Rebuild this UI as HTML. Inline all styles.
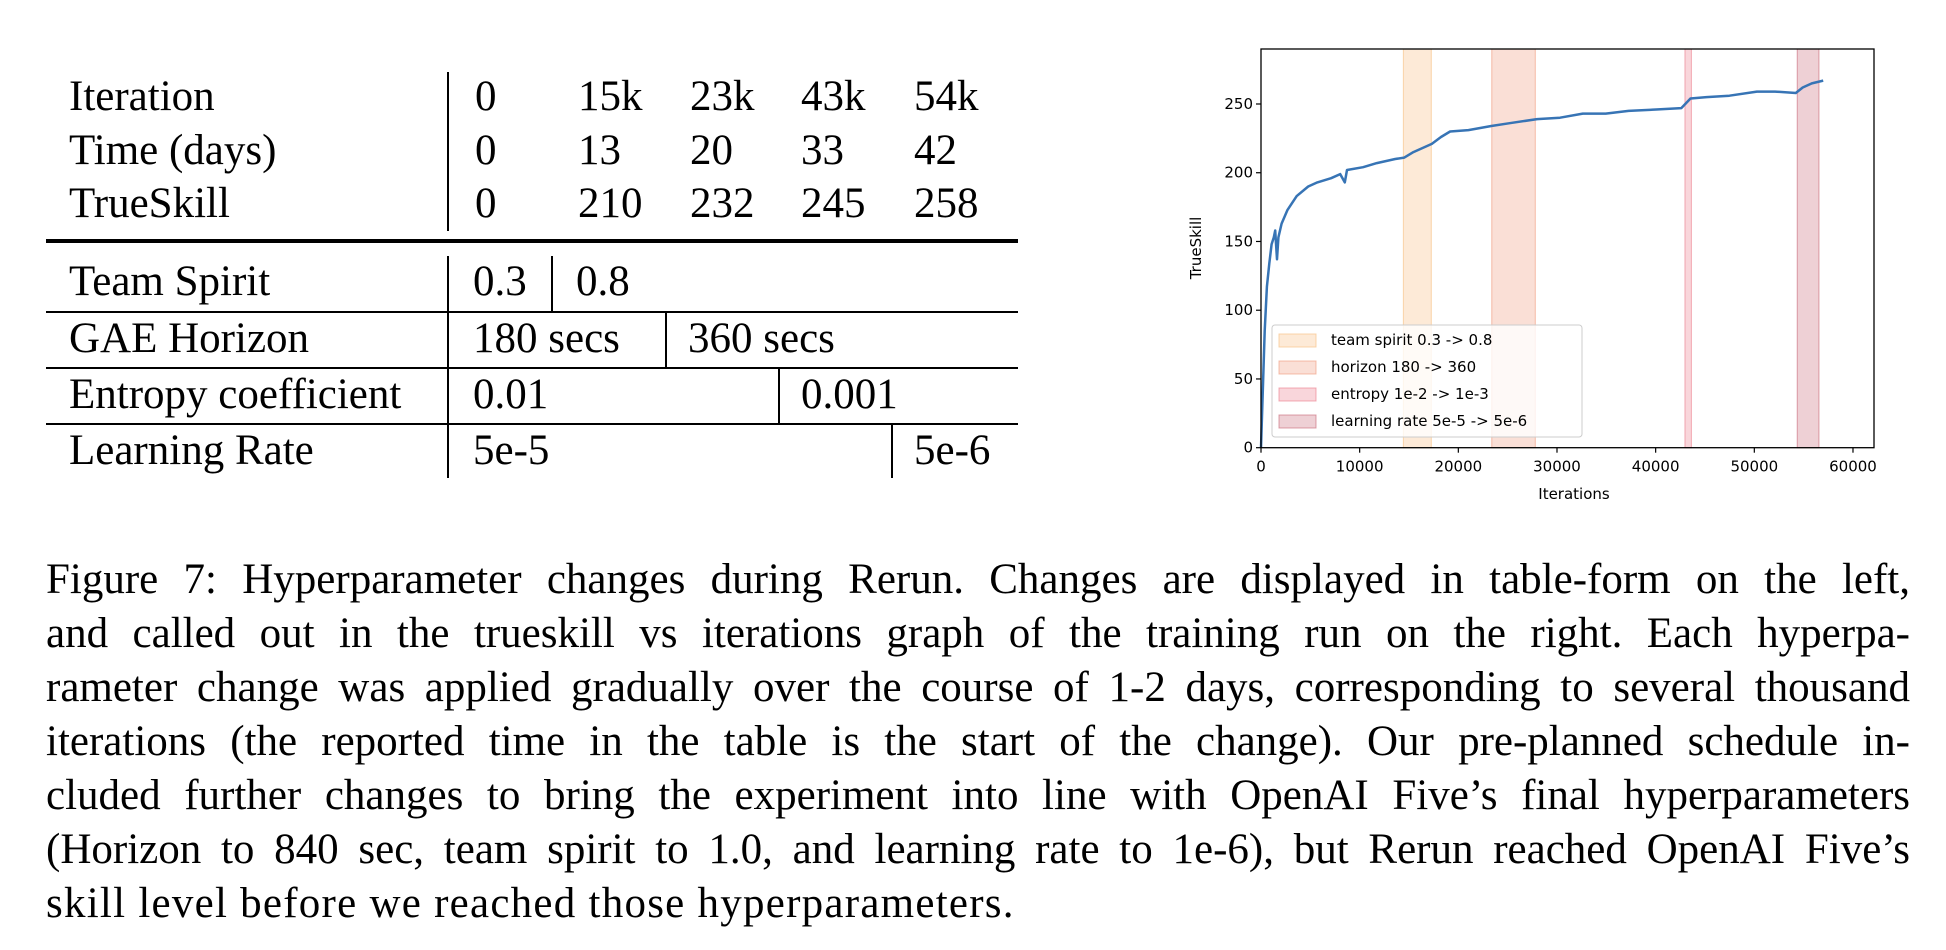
<!DOCTYPE html>
<html><head><meta charset="utf-8">
<style>
body{margin:0;background:#fff;width:1946px;height:950px;overflow:hidden;position:relative;font-family:"Liberation Serif",serif;color:#000}
.t{position:absolute;font-size:43px;white-space:nowrap;line-height:1}
.hl{position:absolute;background:#000}
.cap{position:absolute;left:46px;width:1864px;font-size:43px;line-height:1;text-align:justify;text-align-last:justify;white-space:nowrap}
</style></head><body>
<div>
<div class="t" style="left:69px;top:75px">Iteration</div>
<div class="t" style="left:69px;top:129px">Time (days)</div>
<div class="t" style="left:69px;top:182px">TrueSkill</div>
<div class="t" style="left:475px;top:75px">0</div><div class="t" style="left:578px;top:75px">15k</div><div class="t" style="left:690px;top:75px">23k</div><div class="t" style="left:801px;top:75px">43k</div><div class="t" style="left:914px;top:75px">54k</div>
<div class="t" style="left:475px;top:129px">0</div><div class="t" style="left:578px;top:129px">13</div><div class="t" style="left:690px;top:129px">20</div><div class="t" style="left:801px;top:129px">33</div><div class="t" style="left:914px;top:129px">42</div>
<div class="t" style="left:475px;top:182px">0</div><div class="t" style="left:578px;top:182px">210</div><div class="t" style="left:690px;top:182px">232</div><div class="t" style="left:801px;top:182px">245</div><div class="t" style="left:914px;top:182px">258</div>
<div class="hl" style="left:447px;top:72px;width:1.5px;height:159px"></div>
<div class="hl" style="left:46px;top:239px;width:972px;height:4px"></div>
<div class="t" style="left:69px;top:260px">Team Spirit</div>
<div class="t" style="left:69px;top:317px">GAE Horizon</div>
<div class="t" style="left:69px;top:373px">Entropy coefficient</div>
<div class="t" style="left:69px;top:429px">Learning Rate</div>
<div class="t" style="left:473px;top:260px">0.3</div><div class="t" style="left:576px;top:260px">0.8</div>
<div class="t" style="left:473px;top:317px">180 secs</div><div class="t" style="left:688px;top:317px">360 secs</div>
<div class="t" style="left:473px;top:373px">0.01</div><div class="t" style="left:801px;top:373px">0.001</div>
<div class="t" style="left:473px;top:429px">5e-5</div><div class="t" style="left:914px;top:429px">5e-6</div>
<div class="hl" style="left:447px;top:256px;width:1.5px;height:222px"></div>
<div class="hl" style="left:551px;top:256px;width:1.5px;height:56px"></div>
<div class="hl" style="left:665px;top:312px;width:1.5px;height:56px"></div>
<div class="hl" style="left:778px;top:368px;width:1.5px;height:56px"></div>
<div class="hl" style="left:891px;top:424px;width:1.5px;height:54px"></div>
<div class="hl" style="left:46px;top:311px;width:972px;height:1.5px"></div>
<div class="hl" style="left:46px;top:367px;width:972px;height:1.5px"></div>
<div class="hl" style="left:46px;top:423px;width:972px;height:1.5px"></div>
</div>

<svg id="chart" style="position:absolute;left:0;top:0" width="1946" height="950" font-family="DejaVu Sans, sans-serif"></svg>

<div>
<div class="cap" style="top:558px">Figure 7: Hyperparameter changes during Rerun. Changes are displayed in table-form on the left,</div>
<div class="cap" style="top:612px">and called out in the trueskill vs iterations graph of the training run on the right. Each hyperpa-</div>
<div class="cap" style="top:666px">rameter change was applied gradually over the course of 1-2 days, corresponding to several thousand</div>
<div class="cap" style="top:720px">iterations (the reported time in the table is the start of the change). Our pre-planned schedule in-</div>
<div class="cap" style="top:774px">cluded further changes to bring the experiment into line with OpenAI Five’s final hyperparameters</div>
<div class="cap" style="top:828px">(Horizon to 840 sec, team spirit to 1.0, and learning rate to 1e-6), but Rerun reached OpenAI Five’s</div>
<div class="cap" style="top:882px;text-align-last:left;letter-spacing:1.25px">skill level before we reached those hyperparameters.</div>
</div>

<script>
const iters=[0,370,600,840,1070,1300,1440,1620,1760,2090,2690,3620,4780,5710,7100,8030,8490,8720,10350,11740,13600,14520,15450,17310,18240,19170,21020,23340,25200,27980,30300,32620,34940,37260,40050,42600,43530,45150,47470,50260,52110,54200,54900,55830,56980];
const skill=[0,85,117,134,148,153,158,137,153,163,173,183,190,193,196,199,193,202,204,207,210,211,215,221,226,230,231,234,236,239,240,243,243,245,246,247,254,255,256,259,259,258,262,265,267];
const bandLabels=["team spirit 0.3 -> 0.8","horizon 180 -> 360","entropy 1e-2 -> 1e-3","learning rate 5e-5 -> 5e-6"];
const bandStart=[14430,23390,42970,54350];
const bandEnd=[17260,27800,43620,56550];
const xTicks=[0,10000,20000,30000,40000,50000,60000];
const yTicks=[0,50,100,150,200,250];

const svg=document.getElementById('chart');
const NS='http://www.w3.org/2000/svg';
const L=1261,R=1874,T=49,B=447.7,XMAX=62130,YMAX=290;
const sx=v=>L+(R-L)*v/XMAX, sy=v=>B-(B-T)*v/YMAX;
const fills=['rgba(248,196,140,0.35)','rgba(240,150,120,0.3)','rgba(235,120,135,0.3)','rgba(200,100,115,0.3)'];
const strokes=['rgba(248,196,140,0.7)','rgba(240,150,120,0.6)','rgba(235,120,135,0.6)','rgba(200,100,115,0.6)'];
function mk(t,a){const e=document.createElementNS(NS,t);for(const k in a)e.setAttribute(k,a[k]);svg.appendChild(e);return e;}
for(let i=0;i<bandStart.length;i++){
  const r=mk('rect',{x:sx(bandStart[i]),y:T,width:sx(bandEnd[i])-sx(bandStart[i]),height:B-T,fill:fills[i],stroke:strokes[i],'stroke-width':1});
  
  
}
const pts=iters.map((v,i)=>sx(v).toFixed(1)+','+sy(skill[i]).toFixed(1)).join(' ');
const line=mk('polyline',{points:pts,fill:'none',stroke:'#3774b5','stroke-width':2.5,'stroke-linejoin':'round'});


const frame=mk('rect',{x:L,y:T,width:R-L,height:B-T,fill:'none',stroke:'#000','stroke-width':1.3});


xTicks.forEach(v=>{
  mk('line',{x1:sx(v),x2:sx(v),y1:B,y2:B+5,stroke:'#000','stroke-width':1.2});
  const t=mk('text',{x:sx(v),y:B+24,'font-size':15,'text-anchor':'middle'});t.textContent=v;
  
  
});
yTicks.forEach(v=>{
  mk('line',{x1:L-5,x2:L,y1:sy(v),y2:sy(v),stroke:'#000','stroke-width':1.2});
  const t=mk('text',{x:L-8,y:sy(v)+5,'font-size':15,'text-anchor':'end'});t.textContent=v;
  
  
});
const xl=mk('text',{x:1574,y:499,'font-size':15,'text-anchor':'middle'});xl.textContent='Iterations';


const yl=mk('text',{x:0,y:0,'font-size':15,'text-anchor':'middle',transform:'translate(1201,248) rotate(-90)'});yl.textContent='TrueSkill';


const lg=mk('rect',{x:1272,y:325,width:310,height:112,rx:3,fill:'rgba(255,255,255,0.8)',stroke:'#ccc','stroke-width':1});


bandLabels.forEach((s,i)=>{
  const cy=340+i*27;
  mk('rect',{x:1279,y:cy-6,width:37,height:13,fill:fills[i],stroke:strokes[i]});
  const t=mk('text',{x:1331,y:cy+5,'font-size':15});t.textContent=s;
  
  
});
</script>
</body></html>
